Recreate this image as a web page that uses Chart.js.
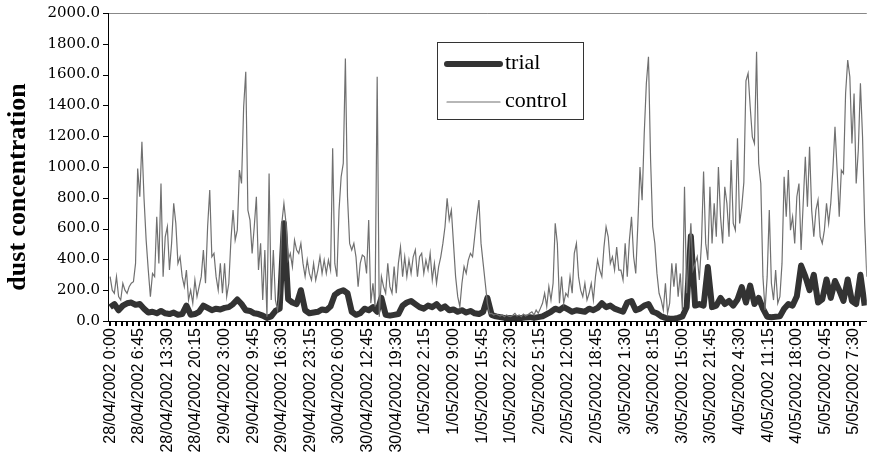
<!DOCTYPE html>
<html>
<head>
<meta charset="utf-8">
<script src="https://cdn.jsdelivr.net/npm/chart.js@4/dist/chart.umd.min.js"></script>
<style>
  html, body { margin: 0; padding: 0; background: #fff; }
  canvas { display: block; }
</style>
</head>
<body>
<canvas id="dustChart" width="881" height="466"></canvas>
<script>
// readings are 15 min apart, a label every 27 readings
var tickLabels = [
    '28/04/2002 0:00', '28/04/2002 6:45', '28/04/2002 13:30', '28/04/2002 20:15',
    '29/04/2002 3:00', '29/04/2002 9:45', '29/04/2002 16:30', '29/04/2002 23:15',
    '30/04/2002 6:00', '30/04/2002 12:45', '30/04/2002 19:30',
    '1/05/2002 2:15', '1/05/2002 9:00', '1/05/2002 15:45', '1/05/2002 22:30',
    '2/05/2002 5:15', '2/05/2002 12:00', '2/05/2002 18:45',
    '3/05/2002 1:30', '3/05/2002 8:15', '3/05/2002 15:00', '3/05/2002 21:45',
    '4/05/2002 4:30', '4/05/2002 11:15', '4/05/2002 18:00',
    '5/05/2002 0:45', '5/05/2002 7:30'
];

var seriesNames = ['trial', 'control'];

// control, read every 30 min (2 readings)
var controlValues = [
    288, 200, 180, 288, 158, 136, 245, 200, 180, 223,
    245, 255, 374, 990, 807, 1164, 796, 525, 331, 158,
    309, 288, 677, 374, 893, 288, 547, 612, 331, 504,
    764, 634, 374, 417, 288, 223, 331, 136, 200, 115,
    266, 158, 223, 288, 461, 245, 612, 850, 417, 439,
    288, 200, 374, 180, 374, 158, 245, 525, 720, 525,
    590, 980, 893, 1390, 1618, 720, 655, 439, 612, 807,
    331, 504, 136, 461, 28, 958, 136, 461, 136, 71,
    180, 634, 764, 634, 396, 439, 353, 525, 461, 439,
    504, 374, 288, 396, 309, 266, 374, 266, 331, 417,
    309, 396, 309, 396, 331, 1121, 374, 288, 720, 937,
    1023, 1705, 807, 504, 461, 504, 417, 223, 374, 428,
    417, 309, 655, 115, 245, 93, 1586, 28, 288, 223,
    180, 374, 223, 180, 353, 180, 374, 480, 288, 417,
    288, 396, 309, 417, 461, 288, 417, 439, 309, 396,
    331, 439, 266, 374, 245, 353, 417, 504, 612, 796,
    655, 720, 504, 288, 158, 93, 245, 353, 309, 396,
    439, 417, 547, 677, 785, 504, 374, 245, 115, 48,
    50, 39, 45, 39, 32, 39, 28, 39, 32, 28,
    37, 50, 32, 39, 28, 45, 32, 39, 50, 60,
    39, 71, 50, 82, 115, 180, 93, 223, 136, 245,
    634, 504, 115, 288, 115, 180, 158, 288, 180, 439,
    504, 288, 200, 158, 245, 136, 180, 245, 136, 288,
    396, 331, 288, 480, 612, 547, 374, 417, 331, 480,
    331, 331, 266, 504, 288, 525, 677, 417, 309, 634,
    1000, 785, 1218, 1543, 1716, 1045, 612, 504, 309, 180,
    136, 71, 245, 50, 115, 374, 223, 374, 158, 309,
    71, 872, 180, 396, 634, 331, 374, 417, 266, 504,
    970, 504, 396, 872, 504, 764, 547, 1000, 677, 504,
    872, 764, 547, 1045, 634, 590, 1186, 634, 740, 900,
    1560, 1608, 1390, 1196, 1153, 1748, 1023, 893, 288, 71,
    288, 720, 245, 136, 331, 115, 158, 374, 937, 677,
    980, 590, 677, 504, 807, 893, 461, 764, 1067, 742,
    1132, 720, 547, 720, 785, 547, 504, 590, 764, 634,
    764, 980, 1261, 980, 677, 980, 958, 1477, 1694, 1586,
    1153, 1477, 893, 1110, 1543, 1196, 634, 288
];

// trial, read every hour (4 readings)
var trialValues = [
    90, 110, 70, 100, 115, 120, 105, 110, 80, 55,
    60, 50, 65, 50, 45, 55, 40, 45, 100, 40,
    45, 60, 100, 85, 70, 80, 75, 85, 90, 110,
    140, 110, 70, 65, 50, 45, 35, 20, 30, 65,
    80, 634, 140, 120, 110, 200, 70, 50, 55, 60,
    75, 70, 95, 170, 190, 200, 180, 60, 40, 50,
    80, 70, 90, 60, 150, 40, 35, 40, 45, 100,
    120, 130, 110, 90, 80, 100, 90, 110, 80, 95,
    70, 75, 60, 70, 55, 65, 50, 45, 60, 150,
    40, 30, 25, 20, 20, 18, 20, 20, 22, 25,
    20, 25, 30, 45, 60, 80, 70, 90, 75, 60,
    70, 65, 60, 80, 70, 85, 115, 90, 100, 80,
    70, 60, 120, 130, 70, 80, 100, 110, 60, 50,
    30, 20, 15, 15, 20, 30, 90, 550, 100, 110,
    100, 350, 90, 100, 150, 110, 130, 100, 140, 220,
    120, 230, 110, 150, 80, 28, 25, 28, 30, 80,
    110, 100, 160, 360, 290, 200, 300, 120, 140, 270,
    150, 260, 200, 130, 270, 130, 110, 300, 100
];

function toPoints(values, stepsPerValue) {
    return values.map(function(v, i) { return { x: i * stepsPerValue, y: v }; });
}

// y axis title, sits a bit below the middle of the axis like the original
var axisTitle = {
    id: 'axisTitle',
    afterDraw: function(chart) {
        var ctx = chart.ctx;
        ctx.save();
        ctx.translate(18, 187);
        ctx.rotate(-Math.PI / 2);
        ctx.font = 'bold 26px "Liberation Serif", "Times New Roman", serif';
        ctx.fillStyle = '#000';
        ctx.textAlign = 'center';
        ctx.textBaseline = 'middle';
        ctx.fillText('dust concentration', 0, 0);
        ctx.restore();
    }
};

// tick marks at the scales' own tick values (5 marks per label on x)
var tickMarks = {
    id: 'tickMarks',
    afterDraw: function(chart) {
        var ctx = chart.ctx;
        var xs = chart.scales.x, ys = chart.scales.y, area = chart.chartArea;
        ctx.save();
        ctx.globalAlpha = 1;
        ctx.fillStyle = '#000000';
        for (var i = 0; i * 27 / 5 <= 712; i++) {
            var px = Math.round(xs.getPixelForValue(i * 27 / 5));
            ctx.fillRect(px - 1, Math.round(area.bottom), 2, 5);
        }
        for (var v = 0; v <= 2000; v += 200) {
            var py = Math.round(ys.getPixelForValue(v));
            ctx.fillRect(Math.round(area.left) - 5, py, 5, 1);
        }
        ctx.restore();
    }
};

// boxed legend inside the plot, Excel style
var boxLegend = {
    id: 'boxLegend',
    afterDraw: function(chart) {
        var ctx = chart.ctx;
        var box = { x: 437, y: 42, w: 146, h: 77 };
        ctx.save();
        ctx.fillStyle = '#fff';
        ctx.fillRect(box.x, box.y, box.w, box.h);
        ctx.strokeStyle = '#333';
        ctx.lineWidth = 1;
        ctx.strokeRect(box.x + 0.5, box.y + 0.5, box.w, box.h);
        var rows = [64, 102];
        chart.data.datasets.forEach(function(ds, i) {
            var y = rows[i];
            ctx.beginPath();
            ctx.moveTo(447, y);
            ctx.lineTo(500, y);
            ctx.strokeStyle = ds.borderColor;
            ctx.lineWidth = ds.borderWidth;
            ctx.lineCap = 'round';
            ctx.stroke();
            ctx.fillStyle = '#000';
            ctx.font = '22px "Liberation Serif", "Times New Roman", serif';
            ctx.textAlign = 'left';
            ctx.textBaseline = 'middle';
            ctx.fillText(ds.label, 505, y - 1);
        });
        ctx.restore();
    }
};

var ctx = document.getElementById('dustChart').getContext('2d');
var dustChart = new Chart(ctx, {
    type: 'line',
    data: {
        datasets: [{
            label: seriesNames[0],
            data: toPoints(trialValues, 4),
            borderColor: '#333333',
            borderWidth: 6,
            borderJoinStyle: 'round',
            pointRadius: 0,
            tension: 0,
            order: 1
        }, {
            label: seriesNames[1],
            data: toPoints(controlValues, 2),
            borderColor: '#707070',
            borderWidth: 1.2,
            pointRadius: 0,
            tension: 0,
            order: 0
        }]
    },
    options: {
        responsive: false,
        animation: false,
        devicePixelRatio: 1,
        layout: { padding: { top: 13, right: 1, bottom: 0, left: 0 } },
        plugins: {
            legend: { display: false },
            tooltip: { enabled: false }
        },
        scales: {
            x: {
                type: 'linear',
                min: -2,
                max: 714,
                afterBuildTicks: function(axis) {
                    var t = [];
                    for (var i = 0; i * 27 / 5 <= 712; i++) t.push({ value: i * 27 / 5 });
                    axis.ticks = t;
                },
                afterFit: function(axis) { axis.height = 145; },
                grid: {
                    drawOnChartArea: false,
                    tickLength: 5,
                    tickColor: 'rgba(0,0,0,0)',
                    color: 'rgba(0,0,0,0)'
                },
                border: { color: '#000', width: 1 },
                ticks: {
                    autoSkip: false,
                    maxTicksLimit: 500,
                    minRotation: 90,
                    maxRotation: 90,
                    padding: 2,
                    color: '#000',
                    font: { family: '"Liberation Sans", Arial, sans-serif', size: 16 },
                    callback: function(v, i) {
                        return i % 5 === 0 ? (tickLabels[i / 5] || '') : ' ';
                    }
                }
            },
            y: {
                min: 0,
                max: 2000,
                afterFit: function(axis) { axis.width = 108; },
                grid: {
                    color: function(c) {
                        return c.tick && c.tick.value === 2000 ? '#888' : 'rgba(0,0,0,0)';
                    },
                    tickColor: 'rgba(0,0,0,0)',
                    tickLength: 5
                },
                border: { color: '#000', width: 1 },
                ticks: {
                    stepSize: 200,
                    padding: 3,
                    color: '#000',
                    font: { family: '"DejaVu Serif", serif', size: 15 },
                    callback: function(v) { return v.toFixed(1); }
                }
            }
        }
    },
    plugins: [axisTitle, tickMarks, boxLegend]
});
</script>
</body>
</html>
